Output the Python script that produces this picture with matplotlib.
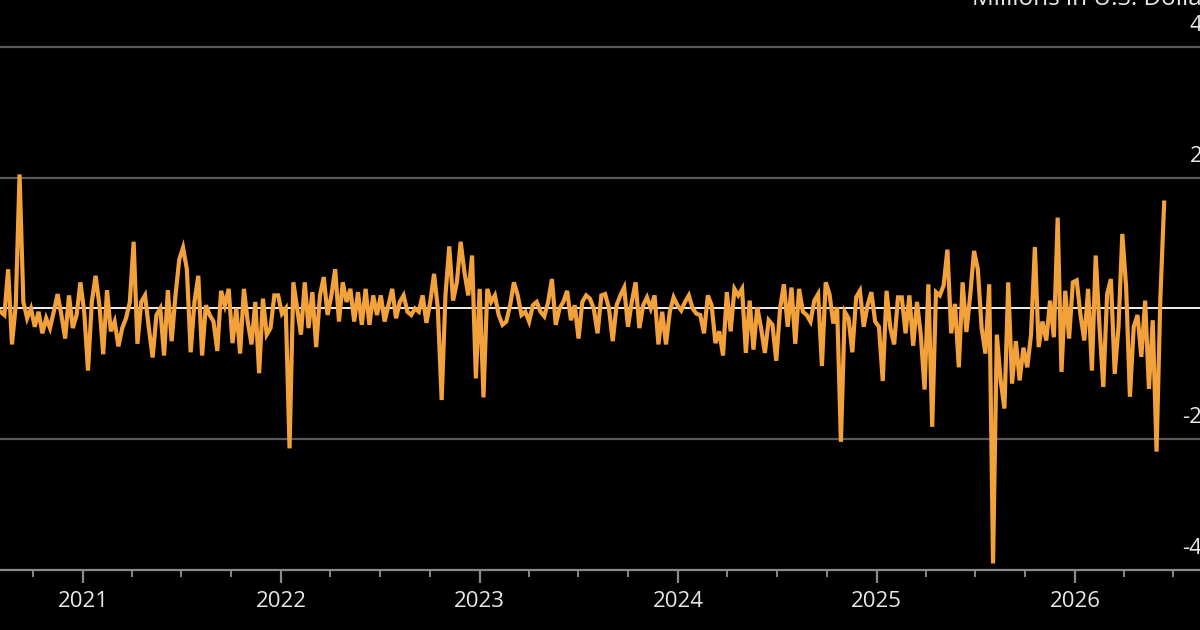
import matplotlib
matplotlib.use("Agg")
import matplotlib.pyplot as plt
import matplotlib.dates as mdates
import matplotlib.transforms as mtransforms
import pandas as pd

# weekly net flows, millions of US dollars
start_date = "2020-08-02"
flows = [
    -5, -10, 60, -55, 5, 205, 10, -15, 0, -28,
    -5, -38, -15, -30, -5, 22, -10, -46, 20, -30,
    -10, 40, -5, -95, 10, 50, 5, -70, 28, -35,
    -20, -58, -30, -15, 10, 102, -54, 10, 20, -30,
    -75, -10, 0, -72, 28, -50, 20, 75, 93, 60,
    -67, 10, 50, -72, 5, -10, -20, -65, 27, 5,
    30, -53, 0, -69, 30, -20, -55, 10, -99, 15,
    -40, -30, 20, 20, -8, 0, -214, 40, 0, -40,
    40, -30, 25, -59, 20, 48, -10, 20, 60, -20,
    40, 10, 30, -20, 25, -25, 30, -25, 20, -10,
    20, -20, 5, 30, -15, 10, 20, -5, -10, 0,
    -5, 20, -22, 10, 53, 0, -140, 20, 95, 12,
    40, 102, 55, 20, 81, -107, 30, -136, 30, 10,
    20, -10, -25, -20, 5, 40, 20, -10, -5, -20,
    5, 10, -5, -12, 10, 45, -25, 0, 10, 27,
    -18, 5, -46, 10, 20, 15, 0, -38, 20, 22,
    0, -50, 5, 20, 32, -28, 10, 40, -30, 5,
    17, 0, 20, -55, -5, -55, -5, 17, 5, -3,
    10, 20, 0, -8, -10, -38, 20, 5, -53, -35,
    -72, 25, -35, 30, 20, 30, -68, 12, -63, 2,
    -30, -68, -18, -25, -80, 0, 37, -28, 32, -54,
    30, -5, -10, -20, 12, 22, -88, 40, 22, -23,
    2, -204, -5, -15, -67, 17, 27, -28, 5, 25,
    -20, -28, -111, 27, -30, -55, 17, 17, -38, 20,
    -57, 10, -40, -124, 37, -181, 25, 20, 35, 90,
    -38, 7, -90, 40, -36, 20, 88, 60, -30, -69,
    37, -390, -40, -110, -153, 40, -115, -50, -110, -60,
    -90, -40, 94, -59, -20, -49, 12, -44, 139, -97,
    27, -46, 40, 43, -10, -49, 30, -95, 81, -28,
    -120, 22, 45, -100, -28, 114, 33, -135, -28, -10,
    -74, 12, -123, -18, -219, 15, 162,
]
dates = pd.date_range(start_date, periods=len(flows), freq="7D")

y_ticks = [-400, -200, 0, 200, 400]
y_labels = ["-400", "-200", "0", "200", "400"]
unit_label = "Millions in U.S. Dollars"

BG = "black"
ORANGE = "#F2A13B"
TEXT = "#e8e8e8"
GRID = "#5a5a5a"

plt.rcParams["font.family"] = ["Open Sans", "DejaVu Sans"]

fig = plt.figure(figsize=(12, 6.3), dpi=100, facecolor=BG)
ax = fig.add_axes([0, 60 / 630, 1, 570 / 630], facecolor=BG)

ax.plot(dates, flows, color=ORANGE, lw=3.0, solid_joinstyle="miter", zorder=3)

ax.set_xlim(pd.Timestamp("2020-08-01"), pd.Timestamp("2026-08-19"))
ax.set_ylim(-400, 471.8)

ax.set_yticks(y_ticks)
ax.tick_params(axis="y", length=0, labelleft=False)
for val in y_ticks:
    if val == 0:
        ax.axhline(val, color="#f0f0f0", lw=1.4, zorder=2)
    elif val != -400:
        ax.axhline(val, color=GRID, lw=1.6, zorder=1)

trans = mtransforms.blended_transform_factory(ax.transAxes, ax.transData)
for val, lab in zip(y_ticks, y_labels):
    ax.annotate(lab, xy=(1.0, val), xycoords=trans, xytext=(20, 8),
                textcoords="offset points", ha="right", va="bottom",
                color=TEXT, fontsize=16, annotation_clip=False)

for side in ["top", "right", "left"]:
    ax.spines[side].set_visible(False)
ax.spines["bottom"].set_color("#8a8a8a")
ax.spines["bottom"].set_linewidth(1.6)

ax.xaxis.set_major_locator(mdates.YearLocator())
ax.xaxis.set_major_formatter(mdates.DateFormatter("%Y"))
ax.xaxis.set_minor_locator(mdates.MonthLocator(bymonth=[4, 7, 10]))
ax.tick_params(axis="x", which="major", length=9, width=1.6, color="#8a8a8a",
               labelcolor=TEXT, labelsize=16, pad=6)
ax.tick_params(axis="x", which="minor", length=5, width=1.4, color="#8a8a8a")

fig.text(972 / 1200, 1 - 5 / 630, unit_label, ha="left", va="baseline",
         color=TEXT, fontsize=17.5)

fig.savefig("out.png", dpi=100, facecolor=BG)
